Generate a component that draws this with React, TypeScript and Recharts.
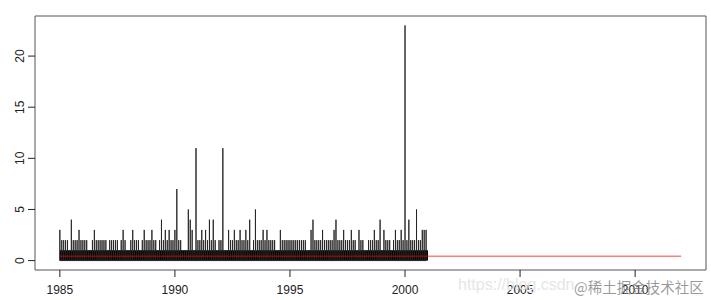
import React from "react";
import {
  ComposedChart,
  Line,
  Area,
  XAxis,
  YAxis,
  ReferenceArea,
} from "recharts";

// monthly peak counts, one row per year, 1985 .. 2000
const monthlyPeaks: number[][] = [
  [3, 2, 2, 2, 2, 1, 4, 2, 2, 2, 3, 2], // 1985
  [2, 2, 2, 1, 1, 2, 3, 2, 2, 2, 2, 2], // 1986
  [2, 1, 2, 2, 2, 2, 2, 1, 2, 3, 2, 1], // 1987
  [1, 2, 3, 2, 2, 2, 1, 2, 3, 2, 2, 2], // 1988
  [3, 2, 2, 1, 2, 4, 2, 3, 2, 3, 2, 2], // 1989
  [3, 7, 2, 2, 1, 1, 1, 5, 4, 3, 1, 11], // 1990
  [2, 2, 3, 2, 3, 2, 4, 2, 4, 2, 1, 2], // 1991
  [2, 11, 1, 1, 3, 2, 2, 3, 2, 2, 3, 2], // 1992
  [2, 3, 2, 4, 1, 2, 5, 2, 2, 2, 3, 2], // 1993
  [3, 2, 2, 2, 2, 1, 1, 3, 2, 2, 2, 2], // 1994
  [2, 2, 2, 2, 2, 2, 2, 2, 2, 1, 1, 3], // 1995
  [4, 2, 2, 2, 2, 3, 2, 2, 2, 2, 2, 3], // 1996
  [4, 2, 2, 2, 3, 2, 2, 2, 3, 2, 2, 1], // 1997
  [3, 2, 2, 1, 1, 2, 2, 2, 3, 2, 2, 4], // 1998
  [1, 3, 2, 2, 2, 1, 2, 3, 2, 2, 3, 2], // 1999
  [23, 2, 4, 2, 2, 2, 5, 2, 2, 3, 3, 3], // 2000
];
const startYear = 1985;
// daily counts swing between 0 and 1 all the time -> solid band
const dailyFloor = 1;

// fitted / forecast level (red)
const fitYears = [1985, 2001, 2012];
const fitLevel = [0.42, 0.42, 0.42];

const xTicks = [1985, 1990, 1995, 2000, 2005, 2010];
const yTicks = [0, 5, 10, 15, 20];

// vertical "h" style strokes
const spikeRows = monthlyPeaks.flat().flatMap((v, m) => {
  const t = startYear + m / 12;
  return [
    { t, y: 0 },
    { t, y: v },
    { t, y: 0 },
  ];
});
const endYear = startYear + monthlyPeaks.flat().length / 12;
const bandRows = [
  { t: startYear, f: dailyFloor },
  { t: endYear, f: dailyFloor },
];
const fitRows = fitYears.map((t, i) => ({ t, r: fitLevel[i] }));

// R style 4% padding
const xMin = startYear;
const xMax = fitYears[fitYears.length - 1];
const xPad = (xMax - xMin) * 0.04;
const yMaxData = Math.max(...monthlyPeaks.flat());
const yPad = yMaxData * 0.04;
const xDomain = [xMin - xPad, xMax + xPad];
const yDomain = [0 - yPad, yMaxData + yPad];

const font = "'Liberation Sans', Arial, sans-serif";

const YTick = (props: any) => {
  const { x, y, payload } = props;
  return (
    <text
      x={x}
      y={y}
      transform={`rotate(-90, ${x}, ${y})`}
      textAnchor="middle"
      fontSize={12}
      fontFamily={font}
      fill="#222"
    >
      {payload.value}
    </text>
  );
};

export default function App() {
  return (
    <div
      style={{
        position: "absolute",
        left: 0,
        top: 0,
        width: 711,
        height: 300,
        background: "#fff",
      }}
    >
      <ComposedChart
        width={711}
        height={300}
        margin={{ top: 16, right: 5, bottom: 0, left: 0 }}
      >
        <XAxis
          type="number"
          dataKey="t"
          domain={xDomain}
          ticks={xTicks}
          interval={0}
          allowDataOverflow
          axisLine={false}
          tickLine={{ stroke: "#222" }}
          tickSize={7}
          tickMargin={8}
          height={30}
          tick={{ fontSize: 12, fontFamily: font, fill: "#222" }}
        />
        <YAxis
          type="number"
          domain={yDomain}
          ticks={yTicks}
          interval={0}
          allowDataOverflow
          axisLine={false}
          tickLine={{ stroke: "#222" }}
          tickSize={7}
          tickMargin={4}
          width={35}
          tick={<YTick />}
        />
        <ReferenceArea
          x1={xDomain[0]}
          x2={xDomain[1]}
          y1={yDomain[0]}
          y2={yDomain[1]}
          fill="none"
          stroke="#555"
          strokeWidth={1}
          ifOverflow="visible"
        />
        <Area
          data={bandRows}
          dataKey="f"
          type="linear"
          baseValue={0}
          fill="#000"
          fillOpacity={1}
          stroke="none"
          isAnimationActive={false}
        />
        <Line
          data={spikeRows}
          dataKey="y"
          type="linear"
          stroke="#222"
          strokeWidth={0.9}
          dot={false}
          isAnimationActive={false}
        />
        <Line
          data={fitRows}
          dataKey="r"
          type="linear"
          stroke="#ff0000"
          strokeOpacity={0.5}
          strokeWidth={1.5}
          dot={false}
          isAnimationActive={false}
        />
      </ComposedChart>
      <div
        style={{
          position: "absolute",
          left: 458,
          top: 276,
          fontFamily: font,
          fontSize: 16,
          color: "#e6e6e6",
          whiteSpace: "nowrap",
        }}
      >
        https://blog.csdn
      </div>
      <div
        style={{
          position: "absolute",
          left: 574,
          top: 276,
          fontFamily: "'Noto Sans CJK SC', sans-serif",
          fontSize: 14.5,
          color: "rgba(120,120,120,0.75)",
          whiteSpace: "nowrap",
        }}
      >
        @稀土掘金技术社区
      </div>
    </div>
  );
}
